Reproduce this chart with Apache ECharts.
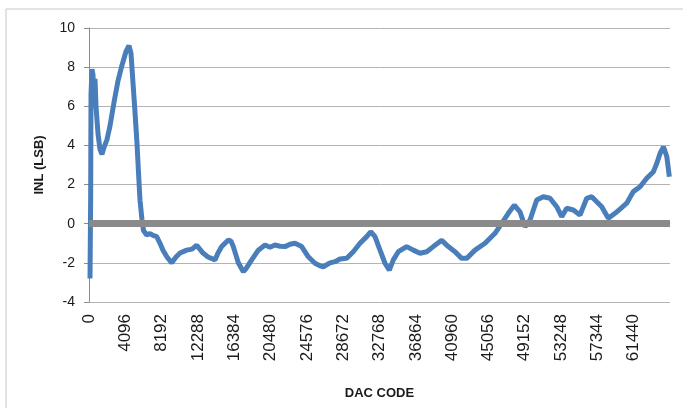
<html lang="en">
<head>
  <meta charset="UTF-8">
  <title>INL vs DAC code</title>
  <style>
    html, body { margin: 0; padding: 0; background: #fff; }
    #inl-chart { width: 683px; height: 408px; }
  </style>
</head>
<body>
  <div id="inl-chart"></div>

  <script src="https://cdn.jsdelivr.net/npm/echarts@6/dist/echarts.min.js"></script>
  <script>
    // DAC codes (x) and INL in LSB (y)
    var dacCodes = [
      113, 190, 226, 338, 451, 564, 677, 790, 1015, 1241, 1466, 1692, 2030, 2369, 2820,
      3271, 3722, 4174, 4512, 4738, 4963, 5189, 5414, 5584, 5753, 5978, 6148, 6509, 6881,
      7219, 7637, 8009, 8347, 8798, 9329, 9814, 10265, 11021, 11618, 12149, 12859, 13423,
      14213, 14551, 14969, 15713, 16018, 16277, 16841, 17405, 17710, 18353, 19097, 19853,
      20417, 20981, 21545, 22109, 22673, 23237, 23993, 24737, 25493, 26057, 26429, 27185,
      27749, 28313, 29069, 29813, 30569, 31325, 31776, 32261, 32825, 33389, 33875, 34326,
      34890, 35837, 36582, 37337, 38093, 38837, 39785, 40529, 41285, 42041, 42605, 43541,
      44669, 45797, 46553, 47298, 47974, 48617, 49181, 49745, 50501, 51246, 52001, 52757,
      53321, 53885, 54630, 55385, 56141, 56705, 57269, 57834, 58578, 59333, 59897, 60653,
      61403, 62155, 62911, 63666, 64050, 64422, 64800, 65180, 65460
    ]
    var inlValues = [
      -2.8, 1.5, 6.6, 7.9, 7.6, 6.3, 7.4, 6.0, 4.6, 3.8, 3.55, 3.9, 4.3, 5.0, 6.2,
      7.3, 8.1, 8.8, 9.1, 8.7, 7.2, 5.7, 4.1, 2.6, 1.2, 0.2, -0.35, -0.58, -0.5,
      -0.6, -0.66, -1.0, -1.35, -1.7, -2.0, -1.7, -1.5, -1.35, -1.3, -1.1, -1.5, -1.7,
      -1.85, -1.5, -1.17, -0.83, -0.9, -1.17, -2.0, -2.45, -2.3, -1.85, -1.35, -1.09,
      -1.2, -1.09, -1.15, -1.17, -1.05, -1.0, -1.17, -1.69, -2.02, -2.15, -2.2, -2.0,
      -1.94, -1.8, -1.77, -1.43, -1.0, -0.66, -0.41, -0.66, -1.35, -2.02, -2.37, -1.85,
      -1.43, -1.17, -1.35, -1.51, -1.43, -1.17, -0.85, -1.17, -1.43, -1.77, -1.77, -1.35,
      -1.0, -0.49, 0.02, 0.53, 0.95, 0.61, -0.15, 0.19, 1.21, 1.38, 1.3, 0.87,
      0.36, 0.79, 0.7, 0.44, 1.3, 1.38, 1.12, 0.87, 0.28, 0.53, 0.75, 1.05,
      1.64, 1.89, 2.32, 2.66, 3.09, 3.6, 3.93, 3.42, 2.4
    ]
    var yTicks = { min: -4, max: 10, step: 2 }
    var xTicks = { min: 0, max: 65536, step: 4096 }

    var onload = function () {
      var points = dacCodes.map(function (c, i) { return [c, inlValues[i]] })
      var fontFamily = "'Liberation Sans', Arial, sans-serif"

      var option = {
        animation: false,
        textStyle: { fontFamily: fontFamily },
        graphic: [{
          type: 'rect',
          shape: { x: 6, y: 9, width: 700, height: 420 },
          style: { fill: 'none', stroke: '#c8c8c8', lineWidth: 1 },
          silent: true,
          z: -10
        }],
        grid: {
          left: 89,
          right: 13,
          top: 28,
          bottom: 106
        },
        xAxis: {
          type: 'value',
          min: xTicks.min,
          max: xTicks.max,
          interval: xTicks.step,
          name: 'DAC CODE',
          nameLocation: 'middle',
          nameGap: 85,
          nameTextStyle: { fontSize: 13, fontWeight: 'bold', color: '#1a1a1a' },
          axisLine: { show: true, lineStyle: { color: '#b3b3b3' } },
          axisTick: { show: false },
          splitLine: { show: false },
          axisLabel: {
            rotate: 90,
            fontSize: 17,
            color: '#1a1a1a',
            margin: 12,
            showMaxLabel: false,
            formatter: function (v) { return String(v) }
          }
        },
        yAxis: {
          type: 'value',
          min: yTicks.min,
          max: yTicks.max,
          interval: yTicks.step,
          name: 'INL (LSB)',
          nameLocation: 'middle',
          nameGap: 43,
          nameTextStyle: { fontSize: 13, fontWeight: 'bold', color: '#1a1a1a' },
          axisLine: { show: true, lineStyle: { color: '#8c8c8c' } },
          axisTick: { show: true, length: 5, lineStyle: { color: '#8c8c8c' } },
          splitLine: { show: true, lineStyle: { color: '#b3b3b3', width: 1 } },
          axisLabel: { fontSize: 14, color: '#1a1a1a', margin: 14 }
        },
        series: [
          {
            name: 'zero',
            type: 'line',
            data: [],
            z: 1,
            silent: true,
            markLine: {
              silent: true,
              symbol: 'none',
              label: { show: false },
              lineStyle: { color: '#8a8a8a', width: 7, type: 'solid' },
              data: [{ yAxis: 0 }]
            }
          },
          {
            name: 'INL',
            type: 'line',
            z: 3,
            showSymbol: false,
            data: points,
            lineStyle: { color: '#4a7ebb', width: 5 },
            itemStyle: { color: '#4a7ebb' }
          }
        ]
      }

      var chart = echarts.init(document.getElementById('inl-chart'))
      chart.setOption(option)
    }
    window.onload = onload
  </script>
</body>
</html>
